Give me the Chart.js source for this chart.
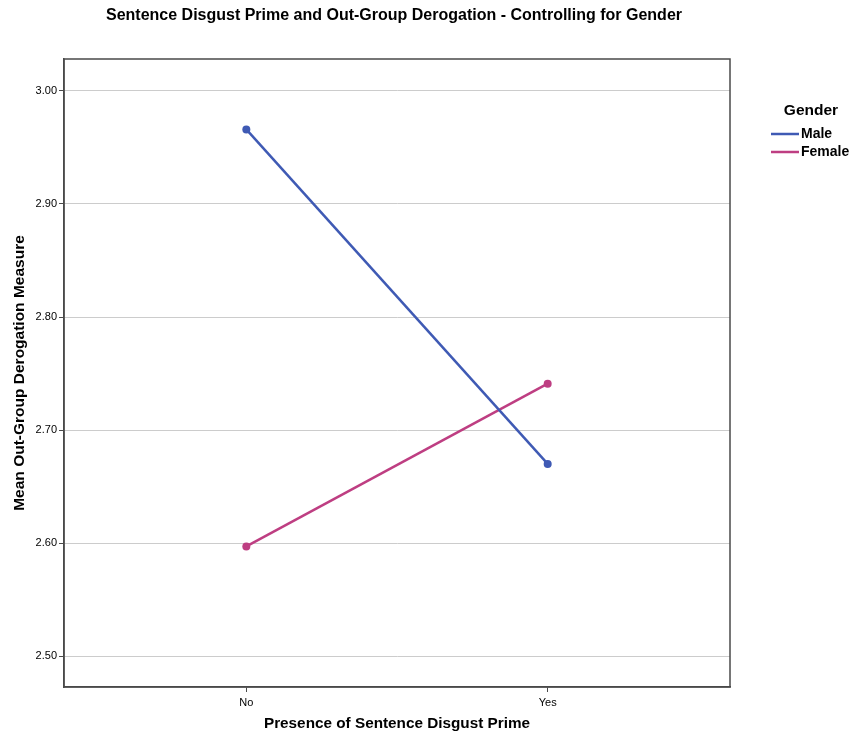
<!DOCTYPE html>
<html>
<head>
<meta charset="utf-8">
<script src="https://cdn.jsdelivr.net/npm/chart.js@4"></script>
<style>
  html, body { margin: 0; padding: 0; background: #fff; }
  #wrap { width: 854px; height: 733px; }
</style>
</head>
<body>
<div id="wrap"><canvas id="chart" width="854" height="733"></canvas></div>
<script>
// data
const categories = ['No', 'Yes'];
const maleValues = [2.966, 2.670];
const femaleValues = [2.597, 2.741];
const yTicks = [2.50, 2.60, 2.70, 2.80, 2.90, 3.00];
const seriesNames = ['Male', 'Female'];
const legendTitle = 'Gender';
const chartTitle = 'Sentence Disgust Prime and Out-Group Derogation - Controlling for Gender';

const FONT = 'Arial, "Liberation Sans", sans-serif';

const toPoints = vals => vals.map((v, i) => ({ x: i, y: v }));

// frame, title and legend drawn on top
const framePlugin = {
    id: 'frame',
    afterDraw(chart) {
        const { ctx, chartArea: a } = chart;
        ctx.save();
        ctx.strokeStyle = '#4a4a4a';
        ctx.lineWidth = 1.5;
        ctx.strokeRect(a.left, a.top, a.right - a.left, a.bottom - a.top);

        ctx.fillStyle = '#000';
        ctx.font = 'bold 16px ' + FONT;
        ctx.textAlign = 'center';
        ctx.textBaseline = 'middle';
        ctx.fillText(chartTitle, 394, 16);

        ctx.font = 'bold 15.5px ' + FONT;
        ctx.fillText(legendTitle, 811, 111);
        ctx.font = 'bold 14px ' + FONT;
        ctx.textAlign = 'left';
        chart.data.datasets.forEach((ds, i) => {
            const y = 134 + i * 18;
            ctx.strokeStyle = ds.borderColor;
            ctx.lineWidth = 2.5;
            ctx.beginPath();
            ctx.moveTo(771, y);
            ctx.lineTo(799, y);
            ctx.stroke();
            ctx.fillText(ds.label, 801, y);
        });
        ctx.restore();
    }
};

new Chart(document.getElementById('chart'), {
    type: 'line',
    data: {
        datasets: [
            {
                label: seriesNames[0],
                data: toPoints(maleValues),
                borderColor: '#3f5ab4',
                backgroundColor: '#3f5ab4',
                borderWidth: 2.5,
                pointRadius: 4,
                pointBorderWidth: 0
            },
            {
                label: seriesNames[1],
                data: toPoints(femaleValues),
                borderColor: '#be3e82',
                backgroundColor: '#be3e82',
                borderWidth: 2.5,
                pointRadius: 4,
                pointBorderWidth: 0
            }
        ]
    },
    options: {
        responsive: false,
        animation: false,
        layout: { padding: { top: 59, right: 124, left: 0, bottom: 0 } },
        plugins: {
            legend: { display: false },
            title: { display: false },
            tooltip: { enabled: false }
        },
        scales: {
            x: {
                type: 'linear',
                min: -0.605,
                max: 1.605,
                afterBuildTicks: s => { s.ticks = categories.map((c, i) => ({ value: i })); },
                afterFit: s => { s.height = 46; },
                ticks: {
                    callback: v => categories[v],
                    color: '#000',
                    font: { family: FONT, size: 11 },
                    padding: 4
                },
                grid: { drawOnChartArea: false, drawTicks: true, tickLength: 5, color: '#4a4a4a' },
                border: { color: '#4a4a4a', width: 1.5 },
                title: {
                    display: true,
                    text: 'Presence of Sentence Disgust Prime',
                    color: '#000',
                    font: { family: FONT, size: 15.3, weight: 'bold' },
                    padding: { top: 6, bottom: 0 }
                }
            },
            y: {
                min: 2.4726,
                max: 3.0283,
                afterBuildTicks: s => { s.ticks = yTicks.map(v => ({ value: v })); },
                afterFit: s => { s.width = 64; },
                ticks: {
                    callback: v => v.toFixed(2),
                    color: '#000',
                    font: { family: FONT, size: 11 },
                    padding: 2
                },
                grid: { color: '#cccccc', lineWidth: 1, tickColor: '#4a4a4a', tickLength: 5 },
                border: { color: '#4a4a4a', width: 1.5 },
                title: {
                    display: true,
                    text: 'Mean Out-Group Derogation Measure',
                    color: '#000',
                    font: { family: FONT, size: 15.5, weight: 'bold' },
                    padding: { top: 10, bottom: 4 }
                }
            }
        }
    },
    plugins: [framePlugin]
});
</script>
</body>
</html>
